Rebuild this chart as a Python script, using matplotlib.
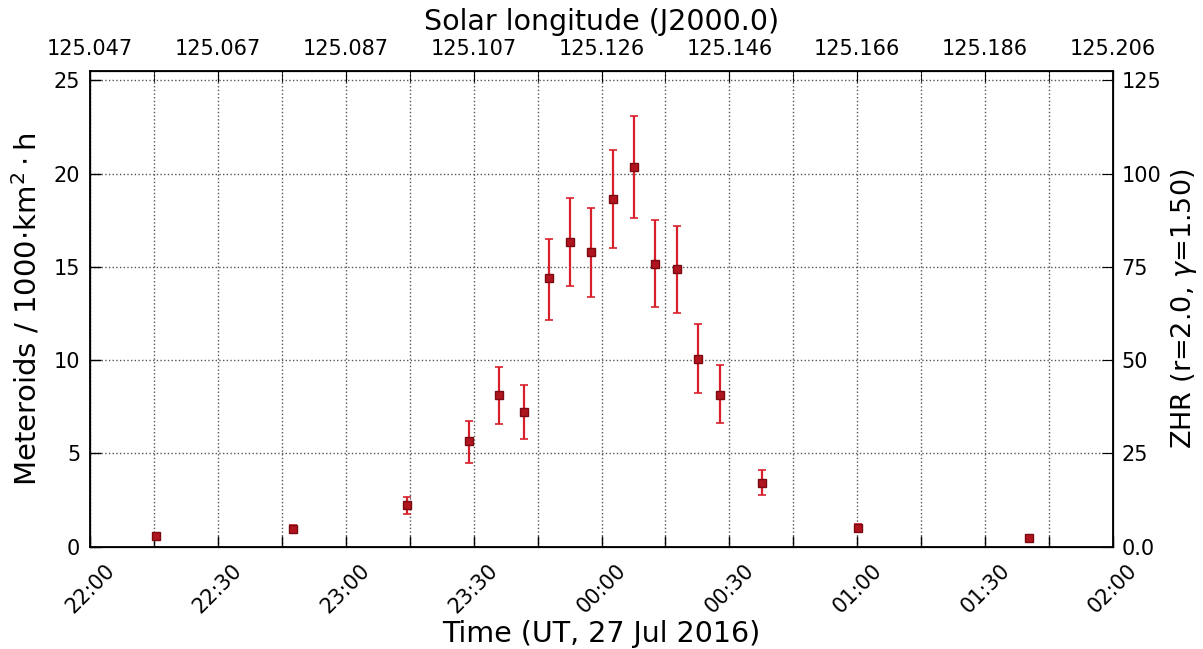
import pandas as pd
import matplotlib
matplotlib.use("Agg")
import matplotlib.pyplot as plt
import matplotlib.dates as mdates

# ---------------------- data ----------------------
times = ["22:15:36", "22:47:36", "23:14:24", "23:28:54", "23:36:00", "23:41:54",
         "23:47:36", "23:52:36", "23:57:30", "00:02:42", "00:07:36", "00:12:36",
         "00:17:36", "00:22:36", "00:27:54", "00:37:42", "01:00:12", "01:40:18"]
flux = [0.55, 0.95, 2.21, 5.64, 8.14, 7.24, 14.38, 16.35, 15.81, 18.63, 20.36,
        15.13, 14.90, 10.03, 8.14, 3.43, 1.02, 0.48]
err_hi = [0.15, 0.2, 0.45, 1.07, 1.51, 1.43, 2.12, 2.35, 2.35, 2.64, 2.75,
          2.36, 2.28, 1.89, 1.60, 0.69, 0.2, 0.12]
err_lo = [0.15, 0.2, 0.46, 1.16, 1.57, 1.46, 2.21, 2.38, 2.45, 2.61, 2.73,
          2.28, 2.36, 1.82, 1.52, 0.66, 0.2, 0.12]

sol_lon_labels = ["125.047", "125.067", "125.087", "125.107", "125.126",
                  "125.146", "125.166", "125.186", "125.206"]
zhr_ticks = [0, 25, 50, 75, 100, 125]
zhr_labels = ["0.0", "25", "50", "75", "100", "125"]
# --------------------------------------------------

t = pd.to_datetime(["2016-07-27 " + s if s >= "12" else "2016-07-28 " + s for s in times])
t0 = pd.Timestamp("2016-07-27 22:00")
t1 = pd.Timestamp("2016-07-28 02:00")

plt.rcParams["font.family"] = "DejaVu Sans"

fig = plt.figure(figsize=(12.03, 6.49), dpi=100)
ax = fig.add_axes([0.0748, 0.1579, 0.8504, 0.7327])

ax.errorbar(t, flux, yerr=[err_lo, err_hi], fmt="s", ms=5.5, color="#b0141f",
            mfc="#b0141f", mec="#7a0a12", ecolor="#d8202c", elinewidth=1.6,
            capsize=3, capthick=1.2, zorder=3)

ax.set_xlim(t0, t1)
ax.set_ylim(0, 25.5)
ax.set_yticks([0, 5, 10, 15, 20, 25])
ax.xaxis.set_major_locator(mdates.MinuteLocator(byminute=[0, 30]))
ax.xaxis.set_minor_locator(mdates.MinuteLocator(byminute=[15, 45]))
ax.xaxis.set_major_formatter(mdates.DateFormatter("%H:%M"))
ax.grid(True, which="both", axis="x", linestyle=":", color="#555555", lw=1)
ax.grid(True, which="major", axis="y", linestyle=":", color="#555555", lw=1)
ax.tick_params(axis="both", which="both", direction="in", labelsize=15)
ax.tick_params(axis="both", which="major", length=8, width=1)
ax.tick_params(axis="x", which="minor", length=8, width=1)
ax.tick_params(axis="x", which="major", pad=10)
ax.tick_params(axis="y", which="major", pad=7)
for lab in ax.get_xticklabels():
    lab.set_rotation(45)
    lab.set_ha("center")
ax.set_xlabel("Time (UT, 27 Jul 2016)", fontsize=20.5, labelpad=2)
ax.set_ylabel(r"Meteroids / 1000$\cdot$km$^2\cdot$h", fontsize=21, labelpad=8)
for sp in ax.spines.values():
    sp.set_linewidth(1.3)

# right axis: ZHR
ax2 = ax.twinx()
ax2.set_ylim(0, 127.5)
ax2.set_yticks(zhr_ticks)
ax2.set_yticklabels(zhr_labels)
ax2.tick_params(axis="y", direction="in", labelsize=15, length=8, pad=6)
ax2.set_ylabel(r"ZHR (r=2.0, $\gamma$=1.50)", fontsize=19.5, labelpad=6)

# top axis: solar longitude
ax3 = ax.twiny()
ax3.set_xlim(ax.get_xlim())
ax3.set_xticks(ax.get_xticks())
ax3.set_xticklabels(sol_lon_labels)
ax3.xaxis.set_minor_locator(mdates.MinuteLocator(byminute=[15, 45]))
ax3.tick_params(axis="x", which="both", direction="in", labelsize=15, length=8, pad=9)
ax3.set_xlabel("Solar longitude (J2000.0)", fontsize=20.5, labelpad=6)

fig.savefig("out.png", dpi=100)
